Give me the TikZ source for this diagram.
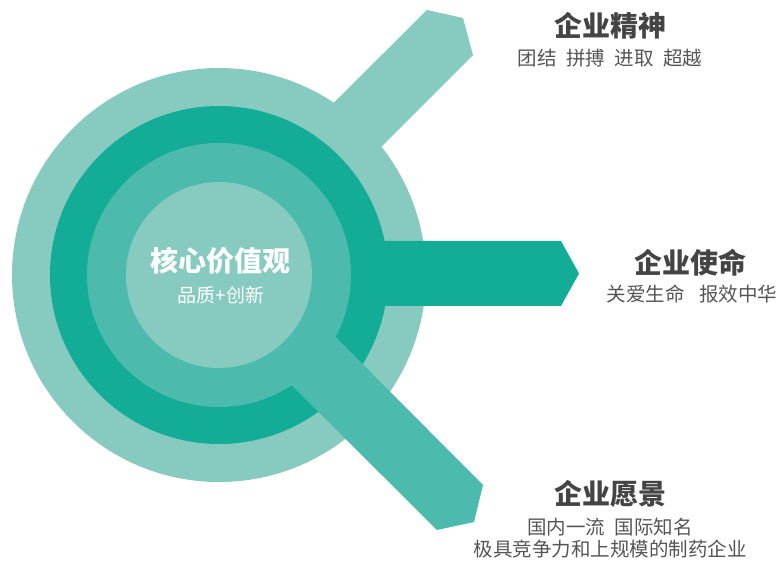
\documentclass[tikz,border=0pt]{standalone}
\usepackage{fontspec}
\setmainfont{Noto Sans CJK SC}
\definecolor{cLight}{HTML}{86CAC0}
\definecolor{cDark}{HTML}{13AD97}
\definecolor{cMid}{HTML}{4CBAAC}
\definecolor{cTitle}{HTML}{444444}
\definecolor{cSub}{HTML}{555555}
\tikzset{
  title/.style={text=cTitle, font=\fontsize{28}{30}\selectfont\bfseries, inner sep=0pt, anchor=center},
  sub/.style={text=cSub, font=\fontsize{19.5}{22}\selectfont, inner sep=0pt, anchor=center},
}
\newcommand{\gp}{\hspace{0.48em}}
\begin{document}
\begin{tikzpicture}[x=1pt,y=-1pt]
\useasboundingbox (0,0) rectangle (779,561);
\coordinate (C) at (219,275);
% outer circle
\fill[cLight] (C) circle (207);
% top arm
\fill[cLight] (250,186) -- (427,10) -- (463,18) -- (473,55) -- (300,228) -- cycle;
% dark ring
\fill[cDark] (C) circle (169);
% middle arm
\fill[cDark] (219,241) -- (561,241) -- (579,273.5) -- (561,306) -- (219,306) -- cycle;
% mid ring
\fill[cMid] (C) circle (132);
% bottom arm
\fill[cMid] (260,261) -- (483,485) -- (474,522) -- (437,530) -- (220,314) -- cycle;
% inner circle
\fill[cLight] (C) circle (93);
% texts
\node[title, text=white] (core) at (220,261) {核心价值观};
\node[sub, text=white, font=\fontsize{19}{22}\selectfont] (coresub) at (221,295) {品质+创新};
\node[title] (t1) at (610,26) {企业精神};
\node[sub] (s1) at (610,58) {团结\gp 拼搏\gp 进取\gp 超越};
\node[title] (t2) at (690,263) {企业使命};
\node[sub] (s2) at (692,294) {关爱生命\hspace{0.75em}报效中华};
\node[title] (t3) at (610,494) {企业愿景};
\node[sub] (s3a) at (610,527) {国内一流\gp 国际知名};
\node[sub] (s3b) at (610,549) {极具竞争力和上规模的制药企业};
\end{tikzpicture}
\end{document}
